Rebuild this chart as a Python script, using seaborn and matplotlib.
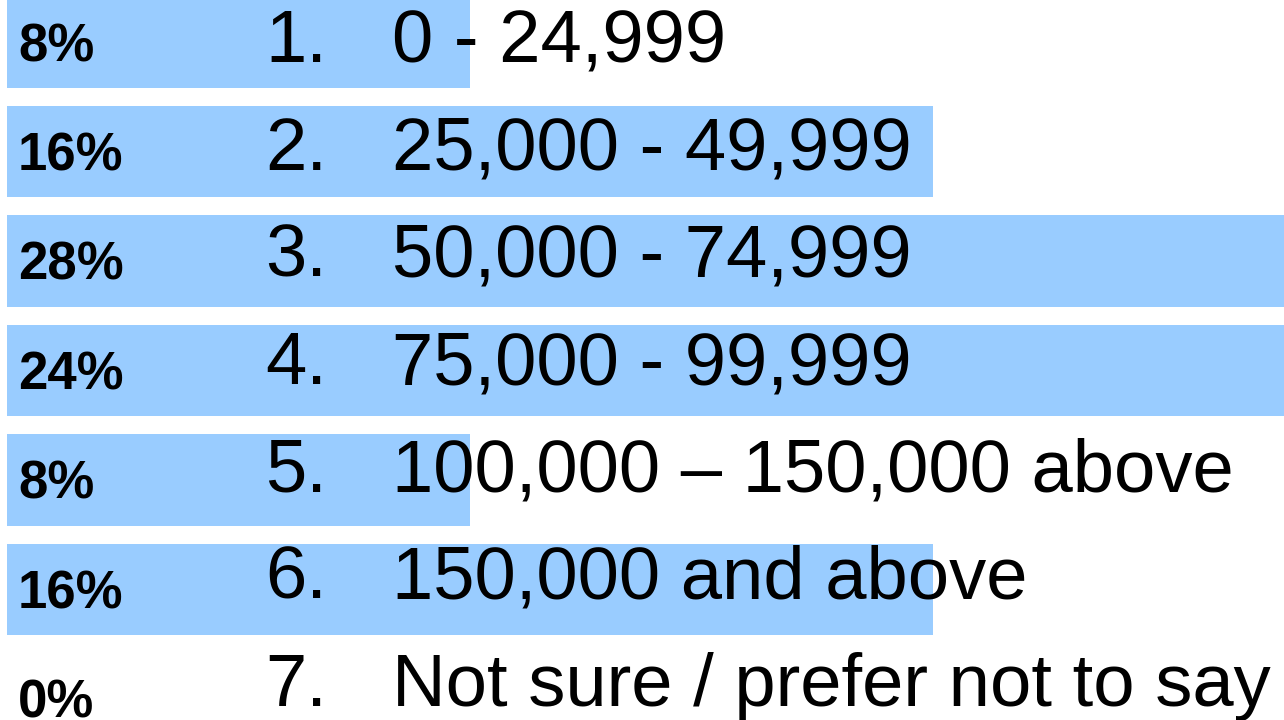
import seaborn as sns
import matplotlib.pyplot as plt
import pandas as pd

# household income question, share of responses
income = ["0 - 24,999", "25,000 - 49,999", "50,000 - 74,999", "75,000 - 99,999",
          "100,000 \u2013 150,000 above", "150,000 and above", "Not sure / prefer not to say"]
numbers = ["1.", "2.", "3.", "4.", "5.", "6.", "7."]
share = [8, 16, 28, 24, 8, 16, 0]

df = pd.DataFrame({'income': income, 'share': share})

sns.set_style("white")
plt.rcParams['font.family'] = ['Liberation Sans', 'DejaVu Sans']
plt.rcParams['text.color'] = 'black'

fig = plt.figure(figsize=(12.84, 7.2), dpi=100)
ax = fig.add_axes([0, 0, 1, 1])
sns.barplot(data=df, x='share', y='income', color='#99ccff', saturation=1,
            width=0.836, linewidth=0, orient='h', ax=ax)

# axis range chosen so the big bars run off the right edge like the slide
ax.set_xlim(-0.121, 22.065)
ax.set_ylim(6.192, -0.3836)
ax.axis('off')

for i, v in enumerate(share):
    ax.text(0.19, i + 0.1735, f"{v}%", fontsize=38, fontweight='bold',
            va='baseline', ha='left', color='black', zorder=5)
    y_txt = 0.185 + 0.98 * i
    ax.text(4.458, y_txt, numbers[i], fontsize=53.5, va='baseline', ha='left',
            color='black', zorder=5)
    ax.text(6.652, y_txt, income[i], fontsize=53.5, va='baseline', ha='left',
            color='black', zorder=5)

fig.savefig('out.png', dpi=100)
